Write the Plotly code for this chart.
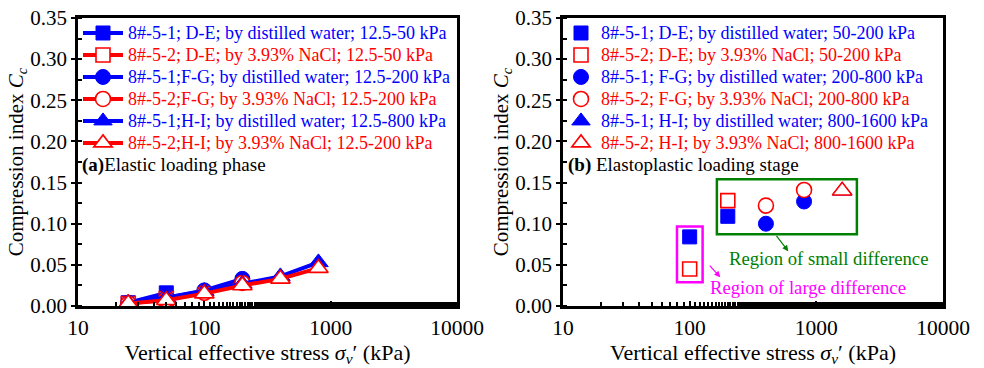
import plotly.graph_objects as go

BLUE = "#0000FF"
RED = "#FF0000"
GREEN = "#008000"
MAGENTA = "#FF00FF"
FONT = "Liberation Serif, Times New Roman, DejaVu Serif, serif"

# ---- panel (a) data: elastic loading phase ----
a_names = [
    "8#-5-1; D-E; by distilled water; 12.5-50 kPa",
    "8#-5-2; D-E; by 3.93% NaCl; 12.5-50 kPa",
    "8#-5-1;F-G; by distilled water; 12.5-200 kPa",
    "8#-5-2;F-G; by 3.93% NaCl; 12.5-200 kPa",
    "8#-5-1;H-I; by distilled water; 12.5-800 kPa",
    "8#-5-2;H-I; by 3.93% NaCl; 12.5-200 kPa",
]
a_de_x = [25, 50]
a_de_w = [0.004, 0.016]
a_de_n = [0.003, 0.009]
a_fg_x = [25, 50, 100, 200]
a_fg_w = [0.004, 0.010, 0.019, 0.033]
a_fg_n = [0.003, 0.008, 0.016, 0.028]
a_hi_x = [25, 50, 100, 200, 400, 800]
a_hi_w = [0.004, 0.010, 0.018, 0.027, 0.036, 0.053]
a_hi_n = [0.003, 0.007, 0.015, 0.025, 0.033, 0.046]

# ---- panel (b) data: elastoplastic loading stage ----
b_names = [
    "8#-5-1; D-E; by distilled water; 50-200 kPa",
    "8#-5-2; D-E; by 3.93% NaCl; 50-200 kPa",
    "8#-5-1; F-G; by distilled water; 200-800 kPa",
    "8#-5-2; F-G; by 3.93% NaCl; 200-800 kPa",
    "8#-5-1; H-I; by distilled water; 800-1600 kPa",
    "8#-5-2; H-I; by 3.93% NaCl; 800-1600 kPa",
]
b_de_x = [100, 200]
b_de_w = [0.084, 0.109]
b_de_n = [0.045, 0.128]
b_fg_x = [400, 800]
b_fg_w = [0.100, 0.127]
b_fg_n = [0.122, 0.141]
b_hi_x = [1600]
b_hi_w = [0.140]
b_hi_n = [0.140]

x_tickvals = [10, 100, 1000, 10000]
x_ticktext = ["10", "100", "1000", "10000"]

fig = go.Figure()

symbols = ["square", "square", "circle", "circle", "triangle-up", "triangle-up"]
sizes = [14, 14, 15, 15, 17, 17]

a_sets = [(a_de_x, a_de_w), (a_de_x, a_de_n), (a_fg_x, a_fg_w), (a_fg_x, a_fg_n),
          (a_hi_x, a_hi_w), (a_hi_x, a_hi_n)]
b_sets = [(b_de_x, b_de_w), (b_de_x, b_de_n), (b_fg_x, b_fg_w), (b_fg_x, b_fg_n),
          (b_hi_x, b_hi_w), (b_hi_x, b_hi_n)]

LEG_TXT = 18  # rendered legend text size


def marker_for(i):
    if i % 2 == 0:
        return dict(symbol=symbols[i], size=sizes[i], color=BLUE, line=dict(color=BLUE, width=1))
    return dict(symbol=symbols[i], size=sizes[i], color="white", line=dict(color=RED, width=1.6))


def label(nm, col):
    return f"<span style='color:{col};font-size:{LEG_TXT}px'>{nm}</span>"


for i, ((xs, ys), nm) in enumerate(zip(a_sets, a_names)):
    col = BLUE if i % 2 == 0 else RED
    fig.add_trace(go.Scatter(
        x=xs, y=ys, mode="lines+markers", xaxis="x", yaxis="y",
        name=label(nm, col),
        line=dict(color=col, width=4), marker=marker_for(i), legend="legend",
    ))

for i, ((xs, ys), nm) in enumerate(zip(b_sets, b_names)):
    col = BLUE if i % 2 == 0 else RED
    fig.add_trace(go.Scatter(
        x=xs, y=ys, mode="markers", xaxis="x2", yaxis="y2",
        name=label(nm, col),
        marker=marker_for(i), legend="legend2",
    ))

xaxis_common = dict(
    type="log", range=[1, 4], tickvals=x_tickvals, ticktext=x_ticktext,
    ticks="inside", ticklen=5, tickwidth=2, tickcolor="black",
    minor=dict(ticks="inside", ticklen=4, tickwidth=2, tickcolor="black", showgrid=False),
    showline=True, linewidth=2.5, linecolor="black", mirror=True,
    showgrid=False, zeroline=False, automargin=False,
    tickfont=dict(family=FONT, size=21.5, color="black"),
    title=dict(text="Vertical effective stress <i>σ</i><sub><i>v</i></sub>′ (kPa)",
               font=dict(family=FONT, size=22, color="black"), standoff=0),
)
yaxis_common = dict(
    range=[0, 0.35], dtick=0.05, tickformat=".2f",
    ticks="outside", ticklen=4, tickwidth=2, tickcolor="black",
    minor=dict(dtick=0.025, ticks="inside", ticklen=4, tickwidth=2, tickcolor="black", showgrid=False),
    showline=True, linewidth=2.5, linecolor="black", mirror=True,
    showgrid=False, zeroline=False, automargin=False,
    tickfont=dict(family=FONT, size=21, color="black"),
    title=dict(text="Compression index <i>C</i><sub><i>c</i></sub>",
               font=dict(family=FONT, size=21, color="black"), standoff=0),
)

L, R, T, B = 78, 41, 18, 62
W, H = 984, 368
pw = W - L - R
ph = H - T - B


def px2paper(px):
    return (px - L) / pw


def py2paper(py):
    return 1 - (py - T) / ph


fig.update_layout(
    width=W, height=H,
    margin=dict(l=L, r=R, t=T, b=B, autoexpand=False),
    paper_bgcolor="white", plot_bgcolor="white",
    font=dict(family=FONT, color="black"),
    xaxis=dict(domain=[0, px2paper(457)], anchor="y", **xaxis_common),
    yaxis=dict(domain=[0, 1], anchor="x", **yaxis_common),
    xaxis2=dict(domain=[px2paper(563), 1], anchor="y2", **xaxis_common),
    yaxis2=dict(domain=[0, 1], anchor="x2", **yaxis_common),
    legend=dict(x=px2paper(78), y=py2paper(17), xanchor="left", yanchor="top",
                bgcolor="rgba(0,0,0,0)", font=dict(family=FONT, size=14.6),
                tracegroupgap=0, itemwidth=40),
    legend2=dict(x=px2paper(561), y=py2paper(17), xanchor="left", yanchor="top",
                 bgcolor="rgba(0,0,0,0)", font=dict(family=FONT, size=14.6),
                 tracegroupgap=0, itemwidth=30),
    showlegend=True,
)

# boxes and notes on panel (b)
fig.add_shape(type="rect", xref="x2", yref="y2", x0=164, x1=2090, y0=0.0872, y1=0.154,
              line=dict(color=GREEN, width=2.5), fillcolor="rgba(0,0,0,0)")
fig.add_shape(type="rect", xref="x2", yref="y2", x0=79.4, x1=126.5, y0=0.029, y1=0.0966,
              line=dict(color=MAGENTA, width=2.5), fillcolor="rgba(0,0,0,0)")

fig.add_annotation(xref="x2", yref="y2", x=2.779, y=0.0665, ax=-13, ay=-17,
                   showarrow=True, arrowhead=2, arrowsize=1, arrowwidth=1.2,
                   arrowcolor=GREEN, text="")
fig.add_annotation(xref="x2", yref="y2", x=2.242, y=0.035, ax=-12, ay=-13,
                   showarrow=True, arrowhead=2, arrowsize=1, arrowwidth=1.2,
                   arrowcolor=MAGENTA, text="")
fig.add_annotation(xref="x2", yref="y2", x=3.094, y=0.058, showarrow=False,
                   text="Region of small difference",
                   font=dict(family=FONT, size=18.7, color=GREEN))
fig.add_annotation(xref="x2", yref="y2", x=2.936, y=0.0228, showarrow=False,
                   text="Region of large difference",
                   font=dict(family=FONT, size=18.7, color=MAGENTA))

fig.add_annotation(xref="paper", yref="paper", x=px2paper(80), y=py2paper(165),
                   xanchor="left", yanchor="middle", showarrow=False,
                   text="<b>(a)</b>Elastic loading phase",
                   font=dict(family=FONT, size=19, color="black"))
fig.add_annotation(xref="paper", yref="paper", x=px2paper(566), y=py2paper(165),
                   xanchor="left", yanchor="middle", showarrow=False,
                   text="<b>(b)</b> Elastoplastic loading stage",
                   font=dict(family=FONT, size=19, color="black"))

fig.write_html("out.html", config={"displayModeBar": False},
               post_script="document.body.style.margin='0';document.body.style.overflow='hidden';")
